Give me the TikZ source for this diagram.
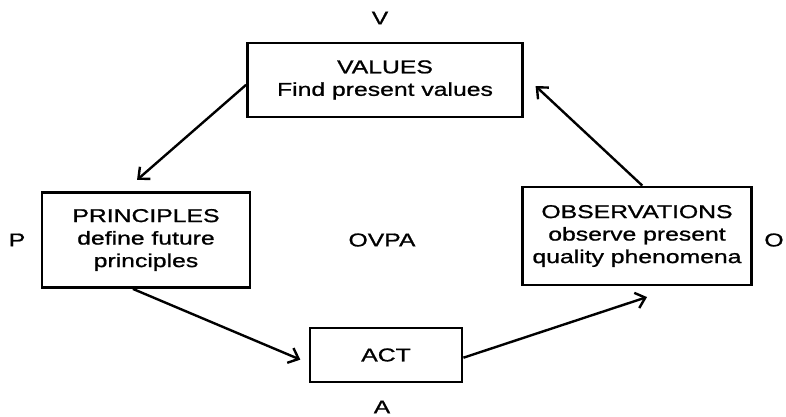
\documentclass[tikz,border=0pt]{standalone}
\usepackage{fontspec}
\setmainfont{Liberation Sans}[FakeStretch=1.33, FakeBold=1]
\usetikzlibrary{arrows.meta,positioning}

\begin{document}
\begin{tikzpicture}[x=1pt, y=1pt, node distance=100pt, font=\fontsize{18.6}{22.5}\selectfont]
\tikzstyle{stage} = [rectangle, draw=black, line width=2.8pt, align=center, inner sep=0pt]
\tikzstyle{tag} = [inner sep=0pt]
\tikzstyle{arrow} = [line width=2.4pt, -{Straight Barb[length=9pt,width=16pt]}]

\useasboundingbox (0,0) rectangle (786,-417);

% cycle name in the middle, stages around it
\node (ovpa) [tag] at (382,-240) {OVPA};
\node (values) [stage, minimum width=275pt, minimum height=74pt, above of=ovpa, yshift=60pt, xshift=3pt] {VALUES\\Find present values};
\node (principles) [stage, minimum width=208pt, minimum height=95pt, left of=ovpa, xshift=-136pt] {PRINCIPLES\\define future\\principles};
\node (observations) [stage, minimum width=229pt, minimum height=98pt, right of=ovpa, xshift=155pt, yshift=4pt] {OBSERVATIONS\\observe present\\quality phenomena};
\node (act) [stage, minimum width=152pt, minimum height=54pt, below of=ovpa, yshift=-15pt, xshift=4pt] {ACT};

% single letters next to each stage
\node (v) [tag, above of=values, yshift=-38pt, xshift=-5pt] {V};
\node (p) [tag, left of=principles, xshift=-29pt] {P};
\node (o) [tag, right of=observations, xshift=37pt, yshift=-4pt] {O};
\node (a) [tag, below of=act, yshift=48pt, xshift=-4pt] {A};

\draw [arrow, shorten >=17pt] (values.182) -- (principles.114);
\draw [arrow, shorten >=9pt] (principles.255) -- (act.186);
\draw [arrow, shorten >=34pt] (act.-2) -- (observations.-50);
\draw [arrow, shorten >=16pt] (observations.84) -- (values.2);
\end{tikzpicture}
\end{document}
